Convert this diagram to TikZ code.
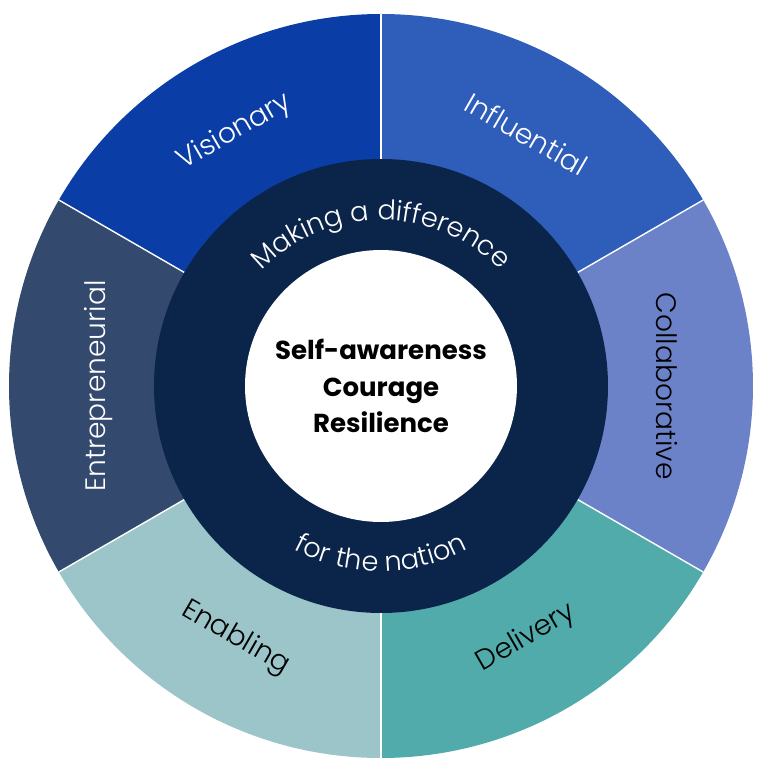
\documentclass[tikz,border=0pt]{standalone}
\usepackage{fontspec}
\setmainfont{Poppins}
\newfontfamily\lightfont{Poppins Light}
\usetikzlibrary{decorations.text}

\definecolor{visionblue}{HTML}{0A3DA5}
\definecolor{influenceblue}{HTML}{2E5DBA}
\definecolor{collabblue}{HTML}{6C82C8}
\definecolor{deliveryteal}{HTML}{51ABAB}
\definecolor{enablingteal}{HTML}{9BC5C9}
\definecolor{entreslate}{HTML}{33496D}
\definecolor{ringnavy}{HTML}{0B2449}

\tikzset{
  seglabel/.style={font=\lightfont\fontsize{16}{19}\selectfont},
  core/.style={circle, fill=white, minimum size=5.44cm, align=center,
    font=\fontsize{14.8}{21}\selectfont\bfseries},
  divider/.style={white, line width=0.8pt}
}

\begin{document}
\begin{tikzpicture}[x=0.02cm, y=0.02cm]

  \useasboundingbox (-381,386) rectangle (387,-385);

  % OUTER SEGMENTS
  \fill [visionblue] (0,0) -- (90:372) arc (90:150:372) -- cycle;
  \fill [influenceblue] (0,0) -- (30:372) arc (30:90:372) -- cycle;
  \fill [collabblue] (0,0) -- (-30:372) arc (-30:30:372) -- cycle;
  \fill [deliveryteal] (0,0) -- (-90:372) arc (-90:-30:372) -- cycle;
  \fill [enablingteal] (0,0) -- (-150:372) arc (-150:-90:372) -- cycle;
  \fill [entreslate] (0,0) -- (150:372) arc (150:210:372) -- cycle;

  \draw [divider] (90:227) -- (90:372);
  \draw [divider] (30:227) -- (30:372);
  \draw [divider] (-30:227) -- (-30:372);
  \draw [divider] (-90:227) -- (-90:372);
  \draw [divider] (-150:227) -- (-150:372);
  \draw [divider] (150:227) -- (150:372);

  \node [seglabel, white, rotate=30] (visionary) at (120:293) {Visionary};
  \node [seglabel, white, rotate=-30] (influential) at (60:291) {Influential};
  \node [seglabel, black, rotate=-90] (collaborative) at (0:286) {Collaborative};
  \node [seglabel, black, rotate=30] (delivery) at (-60:291) {Delivery};
  \node [seglabel, black, rotate=-30] (enabling) at (-120:291) {Enabling};
  \node [seglabel, white, rotate=90] (entrepreneurial) at (180:282) {Entrepreneurial};

  % MIDDLE RING
  \fill [ringnavy] (0,0) circle (227);
  \path [decorate, decoration={text along path, text align=center, text color=white,
    text={|\lightfont\fontsize{15.5}{18}\selectfont|Making a difference}}]
    (150:166) arc (150:30:166);
  \path [decorate, decoration={text along path, text align=center, text color=white,
    text={|\lightfont\fontsize{15.5}{18}\selectfont|for the nation}}]
    (210:185) arc (210:330:185);

  % CENTRE
  \node [core] (centre) at (0,0) {Self-awareness\\Courage\\Resilience};

\end{tikzpicture}
\end{document}
